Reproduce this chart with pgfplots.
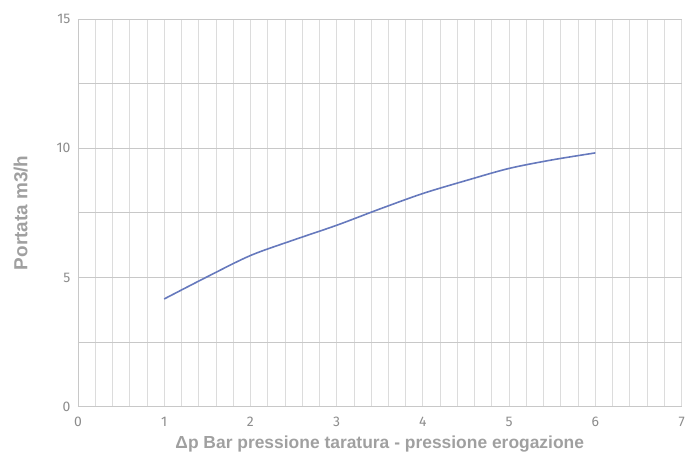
\documentclass[border=0pt]{standalone}
\usepackage{fontspec}
\setmainfont{Fira Sans}
\newfontfamily\labfont{Liberation Sans}
\usepackage{pgfplots}
\pgfplotsset{compat=1.18}
\definecolor{gridc}{HTML}{DCDCDC}
\definecolor{majc}{HTML}{C8C8C8}
\definecolor{txt}{HTML}{8C8C8C}
\definecolor{lab}{HTML}{A0A0A0}
\definecolor{curve}{HTML}{6679BD}
\begin{document}
\begin{tikzpicture}
\begin{axis}[
    scale only axis,
    width=604bp, height=388bp,
    xmin=0, xmax=7, ymin=0, ymax=15,
    xtick={0,1,...,7}, ytick={0,5,10,15},
    minor x tick num=4, minor y tick num=1,
    grid=both,
    major grid style={gridc, line width=0.8pt},
    minor grid style={gridc, line width=0.8pt},
    y grid style={majc},
    axis x line*=bottom, axis y line*=left,
    axis line style={majc, line width=0.8pt},
    tick style={draw=none},
    major tick length=0pt, minor tick length=0pt,
    /pgf/number format/assume math mode=true,
    ticklabel style={font=\fontsize{14}{15}\selectfont, text=txt},
    xticklabel style={yshift=-7bp},
    yticklabel style={xshift=-4bp},
    xlabel={Δp Bar pressione taratura - pressione erogazione},
    ylabel={Portata m3/h},
    label style={text=lab},
    xlabel style={font=\labfont\bfseries\fontsize{17.5}{19}\selectfont, yshift=-2bp},
    ylabel style={font=\labfont\bfseries\fontsize{19}{21}\selectfont, yshift=22bp},
]
\addplot[curve, line width=1.6pt, smooth] coordinates {
    (1,4.17) (1.5,5.03) (2,5.85) (2.5,6.45) (3,7.02) (3.5,7.65)
    (4,8.25) (4.5,8.75) (5,9.22) (5.5,9.55) (6,9.82)
};
\end{axis}
\path ([xshift=-78bp,yshift=-52bp]current axis.south west) rectangle ([xshift=6bp,yshift=19bp]current axis.north east);
\end{tikzpicture}
\end{document}
